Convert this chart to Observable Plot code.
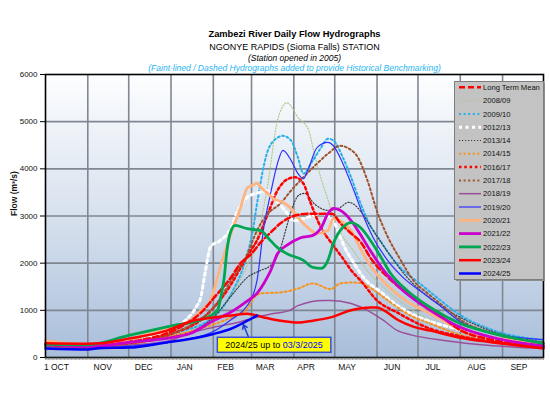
<!DOCTYPE html>
<html><head><meta charset="utf-8">
<script src="https://cdn.jsdelivr.net/npm/d3@7"></script>
<script src="https://cdn.jsdelivr.net/npm/@observablehq/plot@0.6"></script>
<style>
body{margin:0;background:#fff;font-family:"Liberation Sans",Arial,sans-serif;}
#wrap{position:relative;width:550px;height:400px;overflow:hidden;background:#fff}
.t{position:absolute;left:0;width:589px;text-align:center;white-space:nowrap;line-height:1}
#chart{position:absolute;left:0;top:70px}
#legend{position:absolute;left:454px;top:81px}
</style></head><body>
<div id="wrap">
  <div class="t" style="top:30px;font-size:9.3px;font-weight:bold;color:#000">Zambezi River Daily Flow Hydrographs</div>
  <div class="t" style="top:42.5px;font-size:9px;color:#000">NGONYE RAPIDS (Sioma Falls) STATION</div>
  <div class="t" style="top:53.5px;font-size:8.5px;font-style:italic;color:#000">(Station opened in 2005)</div>
  <div class="t" style="top:63.5px;font-size:8.5px;font-style:italic;color:#29b6f0">(Faint-lined / Dashed Hydrographs added to provide Historical Benchmarking)</div>
  <div id="chart"></div>
  <div id="legend"></div>
</div>
<script>
// ---- axis data ----
const monthNames = ["1 OCT","NOV","DEC","JAN","FEB","MAR","APR","MAY","JUN","JUL","AUG","SEP"];
const monthLabelDays = [8,42,72,102,132,161,191,221,254,284,316,347];
const monthStartDays = [0,31,61,92,123,151,182,212,243,273,304,335,365];
const flowTicks = [0,1000,2000,3000,4000,5000,6000];
const yAxisTitle = "Flow (m³/s)";

// ---- series data: [day of hydrological year (0 = 1 Oct), flow m³/s] ----
const longTermMean = [[0,270],[31,240],[61,330],[92,550],[105,750],[114,950],[123,1250],[136,1700],[143,2000],[151,2200],[158,2450],[165,2650],[172,2840],[182,3000],[194,3050],[202,3050],[210,3050],[216,2850],[224,2630],[231,2450],[238,2120],[251,1700],[265,1360],[282,1060],[304,580],[328,370],[365,220]];
const y2008_09 = [[0,250],[31,220],[61,300],[92,480],[123,850],[140,1500],[150,2120],[158,2900],[163,3690],[170,5020],[177,5400],[185,5090],[193,4810],[196,4450],[199,4100],[203,3700],[207,3350],[211,2950],[217,2600],[224,2330],[236,1840],[248,1480],[262,1145],[282,800],[304,550],[328,380],[365,260]];
const y2009_10 = [[0,220],[31,200],[61,280],[92,500],[123,850],[137,1400],[147,2100],[152,2700],[155,3260],[163,4390],[170,4660],[174,4700],[180,4600],[185,4240],[189,3900],[196,4180],[202,4450],[207,4640],[211,4600],[218,4240],[224,3820],[231,3260],[238,2800],[246,2450],[253,2150],[262,1850],[273,1600],[287,1270],[304,900],[328,580],[365,370]];
const y2012_13 = [[0,250],[31,220],[61,320],[92,600],[103,800],[110,1050],[114,1300],[117,1800],[121,2350],[128,2480],[136,2750],[140,3050],[148,3400],[157,3500],[163,3540],[170,3300],[176,3100],[182,2900],[192,2970],[202,3050],[207,3000],[212,2840],[219,2350],[226,2000],[233,1700],[246,1380],[258,1100],[270,900],[287,720],[304,580],[317,450],[341,320],[365,260]];
const y2013_14 = [[0,230],[31,200],[61,280],[92,450],[114,650],[123,850],[136,1300],[148,1700],[158,1850],[165,1950],[172,2300],[177,2800],[180,3100],[186,3450],[190,3480],[197,3260],[207,3120],[216,3180],[222,3290],[226,3250],[231,3100],[240,2700],[253,2150],[265,1700],[282,1250],[304,850],[328,550],[365,330]];
const y2014_15 = [[0,240],[31,210],[61,280],[92,450],[123,700],[140,900],[148,1040],[153,1270],[158,1360],[172,1380],[185,1460],[196,1570],[209,1450],[216,1570],[224,1590],[231,1580],[238,1480],[251,1210],[265,930],[282,720],[304,480],[328,330],[365,250]];
const y2016_17 = [[0,260],[31,230],[61,300],[92,500],[114,800],[123,1050],[136,1550],[143,1900],[150,2250],[155,2480],[163,3050],[170,3540],[178,3790],[183,3820],[189,3690],[194,3300],[202,2750],[209,2450],[218,2100],[224,1850],[231,1630],[243,1210],[258,950],[273,720],[282,610],[304,450],[328,330],[365,230]];
const y2017_18 = [[0,240],[31,210],[61,300],[92,500],[110,750],[123,1050],[136,1630],[148,2200],[155,2690],[163,3050],[172,3260],[180,3540],[189,3820],[199,4110],[207,4320],[216,4490],[221,4450],[229,4240],[236,3750],[243,3100],[251,2550],[260,2080],[270,1620],[280,1360],[292,1080],[304,800],[328,510],[365,300]];
const y2018_19 = [[0,240],[31,210],[61,260],[92,360],[99,450],[123,640],[143,760],[154,850],[165,920],[179,1000],[185,1100],[204,1210],[209,1210],[224,1145],[236,1000],[248,780],[258,570],[268,480],[292,360],[328,250],[365,190]];
const y2019_20 = [[0,200],[31,180],[61,240],[92,330],[123,550],[136,800],[145,1000],[150,1200],[153,1400],[155,1630],[160,2760],[165,3480],[170,4110],[174,4390],[180,4180],[185,3900],[189,3790],[193,4030],[199,4450],[207,4560],[211,4490],[218,4110],[226,3540],[233,3000],[240,2550],[251,2050],[262,1700],[277,1360],[287,1150],[304,760],[328,510],[365,380]];
const y2020_21 = [[0,360],[31,280],[61,380],[92,650],[106,780],[114,1000],[121,1210],[128,1910],[136,2630],[143,3180],[148,3600],[152,3650],[155,3700],[158,3600],[163,3480],[167,3370],[174,3290],[180,3160],[185,2970],[192,2760],[199,2630],[207,2690],[211,2950],[216,2900],[224,2690],[231,2300],[238,1950],[248,1600],[262,1250],[282,930],[304,600],[328,420],[365,300]];
const y2021_22 = [[0,280],[31,230],[61,320],[92,420],[106,510],[123,780],[138,1000],[148,1200],[155,1360],[160,1570],[165,1840],[170,2200],[177,2380],[187,2540],[196,2590],[202,2750],[207,3050],[211,3160],[216,3120],[224,2900],[229,2690],[238,2270],[248,1840],[262,1420],[282,1000],[304,640],[328,420],[365,250]];
const y2022_23 = [[0,280],[31,270],[61,470],[94,680],[114,800],[126,1000],[129,1350],[131,1700],[133,2270],[136,2690],[139,2800],[148,2730],[158,2690],[163,2540],[170,2330],[177,2200],[189,2060],[196,1910],[202,1890],[207,2060],[211,2420],[218,2760],[224,2860],[231,2750],[240,2400],[246,2120],[253,1780],[265,1420],[282,1060],[304,720],[328,510],[365,300]];
const y2023_24 = [[0,300],[31,290],[40,300],[61,400],[89,570],[108,780],[123,850],[136,890],[148,930],[160,850],[172,780],[185,740],[196,780],[209,850],[224,1000],[238,1060],[243,1060],[248,1000],[258,800],[270,650],[282,570],[304,420],[328,320],[365,190]];
const y2024_25 = [[0,190],[31,170],[40,200],[61,210],[89,320],[99,360],[111,420],[123,500],[136,610],[148,780],[155,890]];

// ---- annotation (data units) ----
const annotPrefix = "2024/25 up to ";
const annotDate = "03/3/2025";
const annotBox = {x1:126.3, x2:209.5, y1:100, y2:418};
const annotArrow = {x1:149, y1:418, x2:145, y2:700};

// ---- series table & styles ----
const seriesNames = ["Long Term Mean","2008/09","2009/10","2012/13","2013/14","2014/15","2016/17","2017/18","2018/19","2019/20","2020/21","2021/22","2022/23","2023/24","2024/25"];
const seriesData = [longTermMean,y2008_09,y2009_10,y2012_13,y2013_14,y2014_15,y2016_17,y2017_18,y2018_19,y2019_20,y2020_21,y2021_22,y2022_23,y2023_24,y2024_25];
const styles = {
 "Long Term Mean": {stroke:"#ff0000", w:2.5, dash:"6,3"},
 "2008/09": {stroke:"#b3c98c", w:1.2, dash:"1.2,1.8"},
 "2009/10": {stroke:"#29b0e8", w:2, dash:"2,2.6"},
 "2012/13": {stroke:"#ffffff", w:3, dash:"3,3.5"},
 "2013/14": {stroke:"#3c3c3c", w:1.2, dash:"1.2,1.8"},
 "2014/15": {stroke:"#f7931e", w:2, dash:"2,2.6"},
 "2016/17": {stroke:"#ff0000", w:2.5, dash:"2.5,2.8"},
 "2017/18": {stroke:"#a0522d", w:2, dash:"2,2.6"},
 "2018/19": {stroke:"#9b4f9b", w:1.5, dash:null},
 "2019/20": {stroke:"#3030ff", w:1.2, dash:null},
 "2020/21": {stroke:"#ffb380", w:2.8, dash:null},
 "2021/22": {stroke:"#cc00cc", w:2.8, dash:null},
 "2022/23": {stroke:"#00a651", w:2.8, dash:null},
 "2023/24": {stroke:"#ff0000", w:2.5, dash:null},
 "2024/25": {stroke:"#0000ff", w:2.5, dash:null}
};
const drawOrder = ["2008/09","2009/10","2012/13","2013/14","2014/15","2016/17","2017/18","2018/19","2019/20","2020/21","Long Term Mean","2021/22","2022/23","2023/24","2024/25"];

const table = new Map(seriesNames.map((n,i)=>[n, seriesData[i]]));

function background(index, scales, values, dims) {
  const g = d3.create("svg:g");
  const lg = g.append("defs").append("linearGradient").attr("id","bgGrad")
    .attr("x1",0).attr("y1",0).attr("x2",0).attr("y2",1);
  lg.append("stop").attr("offset","0%").attr("stop-color","#fdfeff");
  lg.append("stop").attr("offset","55%").attr("stop-color","#d3deec");
  lg.append("stop").attr("offset","100%").attr("stop-color","#a9bedb");
  g.append("rect").attr("x",dims.marginLeft).attr("y",dims.marginTop)
    .attr("width",dims.width-dims.marginLeft-dims.marginRight)
    .attr("height",dims.height-dims.marginTop-dims.marginBottom)
    .attr("fill","url(#bgGrad)");
  return g.node();
}

function annotationText(index, scales) {
  const t = d3.create("svg:text")
    .attr("x", scales.x((annotBox.x1+annotBox.x2)/2))
    .attr("y", scales.y((annotBox.y1+annotBox.y2)/2))
    .attr("text-anchor","middle").attr("dy","0.36em")
    .attr("font-size", 9).attr("font-family","Liberation Sans, Arial, sans-serif");
  t.append("tspan").attr("fill","#000").text(annotPrefix);
  t.append("tspan").attr("fill","#0000ff").text(annotDate);
  return t.node();
}

const labelMap = new Map(monthLabelDays.map((d,i)=>[d, monthNames[i]]));

const lineMarks = drawOrder.map(n => Plot.line(table.get(n), {
  x: d => d[0], y: d => d[1], curve: "monotone-x",
  stroke: styles[n].stroke, strokeWidth: styles[n].w,
  strokeDasharray: styles[n].dash || undefined, strokeLinejoin: "round"
}));

const chart = Plot.plot({
  width: 550, height: 330,
  marginTop: 4, marginBottom: 43, marginLeft: 45, marginRight: 7,
  style: {fontFamily: "Liberation Sans, Arial, sans-serif", fontSize: "8px", background: "transparent", overflow: "visible", color: "#111"},
  x: {domain: [0, 365]},
  y: {domain: [0, 6000]},
  marks: [
    background,
    Plot.ruleY(flowTicks.slice(1,-1), {stroke: "#7f8792", strokeWidth: 1.6}),
    Plot.ruleX(monthStartDays.slice(1,-1), {stroke: "#7f8792", strokeWidth: 1.6}),
    ...lineMarks,
    Plot.arrow([annotArrow], {x1: "x1", y1: "y1", x2: "x2", y2: "y2", stroke: "#1f3fd0", strokeWidth: 1.5, headLength: 6}),
    Plot.rect([annotBox], {x1: "x1", x2: "x2", y1: "y1", y2: "y2", fill: "#ffff00", stroke: "#3d4fd0", strokeWidth: 1.5}),
    annotationText,
    Plot.frame({stroke: "#000", strokeWidth: 1.6}),
    Plot.axisY({ticks: flowTicks, tickSize: 5, tickPadding: 3, tickFormat: d3.format("d"), fontSize: 8, label: null, stroke: "#000"}),
    Plot.axisX({ticks: d3.range(0, 366), tickSize: 3, tickFormat: () => "", label: null, stroke: "#555", strokeWidth: 0.5}),
    Plot.axisX({ticks: monthLabelDays, tickSize: 0, tickPadding: 6, tickFormat: d => labelMap.get(d), fontSize: 8.5, label: null}),
    Plot.text([yAxisTitle], {frameAnchor: "left", rotate: -90, dx: -31, fontWeight: "bold", fontSize: 8.5})
  ]
});
document.getElementById("chart").appendChild(chart);

// ---- legend ----
const lgW = 89, lgH = 198;
const lsvg = d3.select("#legend").append("svg").attr("width", lgW + 3).attr("height", lgH + 3)
  .style("font-family","Liberation Sans, Arial, sans-serif");
lsvg.append("rect").attr("x",2).attr("y",2).attr("width",lgW).attr("height",lgH).attr("fill","#8d8d8d");
lsvg.append("rect").attr("x",0.5).attr("y",0.5).attr("width",lgW).attr("height",lgH)
  .attr("fill","#c3c3c3").attr("stroke","#7d7d7d").attr("stroke-width",1);
seriesNames.forEach((n,i) => {
  const y = 6.3 + i*13.3;
  const s = styles[n];
  lsvg.append("line").attr("x1",5).attr("x2",27).attr("y1",y).attr("y2",y)
    .attr("stroke", s.stroke).attr("stroke-width", s.w).attr("stroke-dasharray", s.dash || null);
  lsvg.append("text").attr("x",29).attr("y",y).attr("dy","0.35em").attr("font-size",7.6).attr("fill","#111").text(n);
});
</script>
</body></html>
